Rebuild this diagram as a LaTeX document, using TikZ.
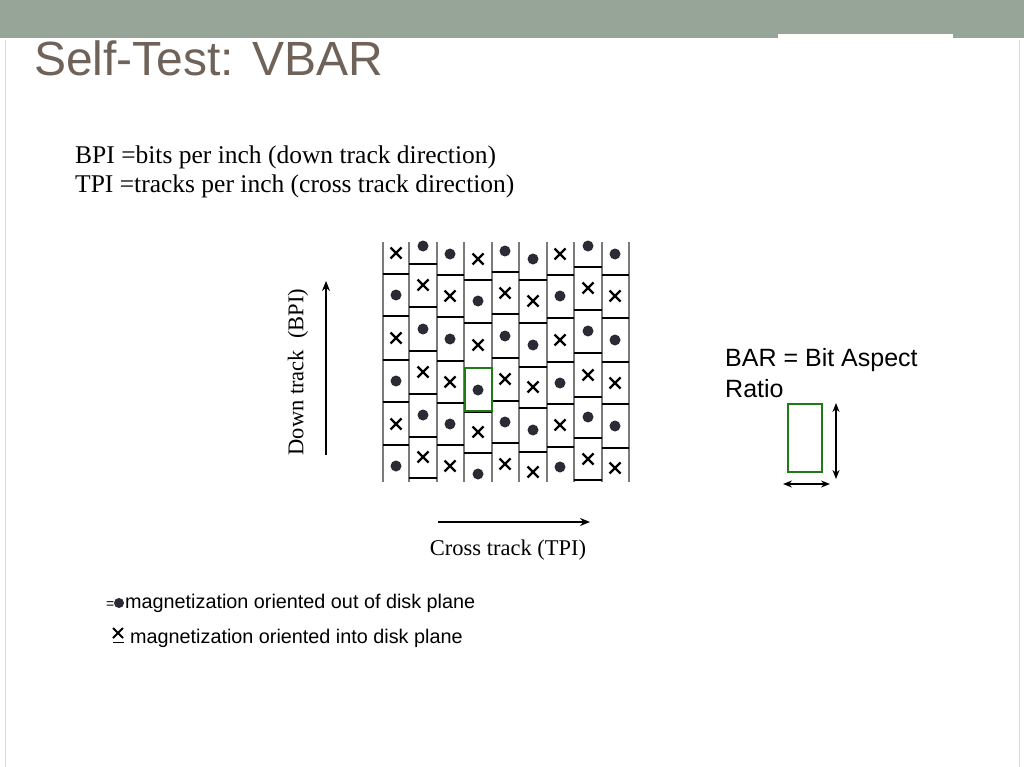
\documentclass[tikz,border=0pt]{standalone}
\usepackage{fontspec}
\setmainfont{Liberation Sans}
\newfontfamily\serifx{Liberation Serif}
\usetikzlibrary{arrows.meta}
\definecolor{barc}{HTML}{96A598}
\definecolor{titlec}{HTML}{6E6259}
\definecolor{gridc}{HTML}{7A7A7A}
\definecolor{dotc}{HTML}{2B2B35}
\definecolor{greenc}{HTML}{1E7A14}
\tikzset{
  vline/.style={gridc,line width=1.3pt},
  hline/.style={black,line width=1.1pt},
  dotsym/.style={circle,fill=dotc,inner sep=0pt,minimum size=11pt},
  crs/.style={line width=2.2pt,black},
  arr/.style={-{Stealth[length=10pt,width=8pt]},line width=1.4pt},
  darr/.style={{Stealth[length=9pt,width=7pt]}-{Stealth[length=9pt,width=7pt]},line width=1.3pt},
  sertxt/.style={font=\serifx\fontsize{25.5}{28}\selectfont,inner sep=0pt,anchor=west},
  axtxt/.style={font=\serifx\fontsize{22.5}{26}\selectfont,inner sep=0pt,anchor=center}
}
\newcommand{\xmark}[2]{\draw[crs] (#1-5.5,#2-5.5)--(#1+5.5,#2+5.5) (#1-5.5,#2+5.5)--(#1+5.5,#2-5.5);}
\begin{document}
\begin{tikzpicture}[x=1pt,y=-1pt]
\useasboundingbox (0,0) rectangle (1024,767);
\fill[white] (0,0) rectangle (1024,767);
\fill[barc] (0,0) rectangle (1024,38);
\fill[white] (778,34) rectangle (953,40);
\draw[gray!30] (5,40)--(5,767) (1019,40)--(1019,767);
\node[titlec,anchor=west,inner sep=0pt,font=\fontsize{48}{52}\selectfont] (title) at (34,58) {Self-Test: VBAR};
\node[sertxt] (bpi) at (75,157) {BPI =bits per inch (down track direction)};
\node[sertxt] (tpi) at (75,186) {TPI =tracks per inch (cross track direction)};
% grid
\foreach \xx in {383,409,437,464,492,519,547,574,602,629}{\draw[vline] (\xx,242)--(\xx,482);}
\foreach \xl/\xr/\lines in {
 383/409/{274,316,360,402,445},
 409/437/{264,307,351,394,437,478},
 437/464/{275,317,361,403,445},
 464/492/{280,323,368,412,453},
 492/519/{272,314,358,401,443},
 519/547/{280,323,367,408,452},
 547/574/{275,318,362,404,447},
 574/602/{267,310,353,397,438,480},
 602/629/{275,318,362,404,448}}{
  \foreach \yy in \lines {\draw[hline] (\xl,\yy)--(\xr,\yy);}
}
% symbols
\foreach \xc/\ys/\first in {
 396/{253,295,338,381,424,466}/0,
 423/{246,285,329,372,415,457}/1,
 450/{254,296,339,382,424,466}/1,
 478/{259,301,345,390,432,474}/0,
 505/{251,293,336,379,422,464}/1,
 533/{259,301,345,387,430,472}/1,
 560/{254,296,340,383,425,467}/0,
 588/{246,288,331,375,417,459}/1,
 615/{254,296,340,383,426,468}/1}{
  \foreach \yy [count=\i] in \ys {
    \pgfmathtruncatemacro{\t}{mod(\i+\first,2)}
    \ifnum\t=0 \node[dotsym] at (\xc,\yy) {}; \else \xmark{\xc}{\yy} \fi
  }
}
\draw[greenc,line width=2.5pt] (465,368) rectangle (492,411);
% axes
\coordinate (dtb) at (326,455); \coordinate (dtt) at (326,281);
\draw[arr] (dtb)--(dtt);
\node[axtxt,rotate=90] (dt) at (298,372) {Down track\ \ (BPI)};
\coordinate (ctl) at (438,522); \coordinate (ctr) at (590,522);
\draw[arr] (ctl)--(ctr);
\node[axtxt] (ct) at (508,550) {Cross track (TPI)};
% BAR
\node[anchor=north west,align=left,inner sep=0pt,font=\fontsize{25}{31}\selectfont] (bar) at (725,348) {BAR = Bit Aspect\\Ratio};
\draw[greenc,line width=2.5pt] (788,404) rectangle (822,472);
\coordinate (va) at (836,403); \coordinate (vb) at (836,479);
\draw[darr] (va)--(vb);
\coordinate (ha) at (783,484); \coordinate (hb) at (830,484);
\draw[darr] (ha)--(hb);
% legend
\node[anchor=west,inner sep=0pt,font=\fontsize{19.8}{22}\selectfont] (l1) at (125,603) {magnetization oriented out of disk plane};
\node[anchor=west,inner sep=0pt,font=\fontsize{14}{16}\selectfont] (l0) at (106,605) {=};
\node[dotsym,minimum size=10pt] (ld) at (119,603) {};
\node[anchor=west,inner sep=0pt,font=\fontsize{19.8}{22}\selectfont] (l2) at (130,638) {magnetization oriented into disk plane};
\draw[line width=2pt] (113,628)--(123,638) (113,638)--(123,628);
\draw[line width=0.8pt] (113,642)--(124,642);
\end{tikzpicture}
\end{document}
